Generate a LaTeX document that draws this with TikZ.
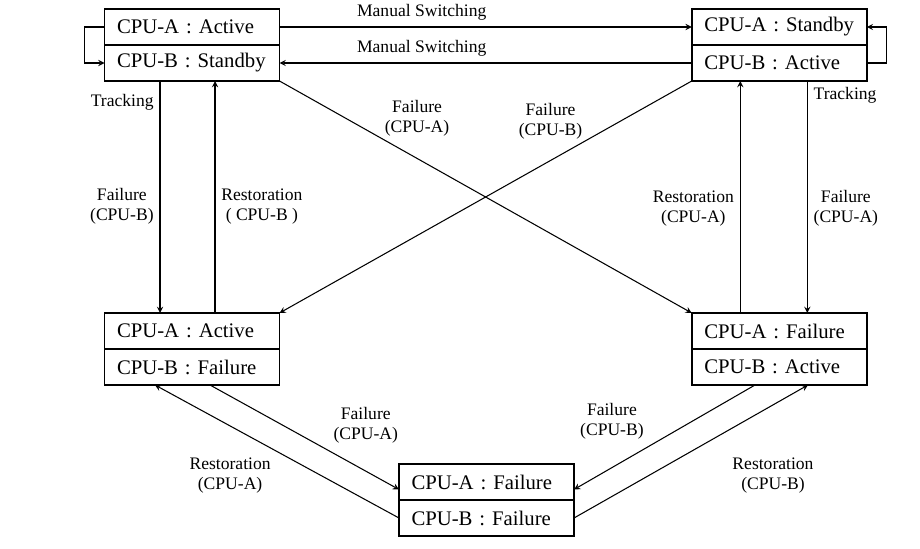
\documentclass[tikz,border=0pt]{standalone}
\usepackage{fontspec}
\setmainfont{Liberation Serif}
\usetikzlibrary{positioning}
\begin{document}
\begin{tikzpicture}[>=stealth, line width=0.6pt,
    row/.style={draw, line width=0.9pt, outer sep=0pt, minimum height=0.72cm, text width=3cm, inner xsep=0.25cm, align=left, font=\fontsize{11.8}{13}\selectfont},
    lbl/.style={align=center, font=\fontsize{10}{11.5}\selectfont}]
  \useasboundingbox (0, 0) rectangle (18.4, 10.96);
  % the five states
  \node[row] (tla) at (3.84, 10.42) {CPU-A : Active};
  \node[row, below=0pt of tla] (tlb) {CPU-B : Standby};
  \node[row] (tra) at (15.585, 10.42) {CPU-A : Standby};
  \node[row, below=0pt of tra] (trb) {CPU-B : Active};
  \node[row] (lla) at (3.84, 4.34) {CPU-A : Active};
  \node[row, below=0pt of lla] (llb) {CPU-B : Failure};
  \node[row] (lra) at (15.585, 4.34) {CPU-A : Failure};
  \node[row, below=0pt of lra] (lrb) {CPU-B : Active};
  \node[row] (bta) at (9.73, 1.32) {CPU-A : Failure};
  \node[row, below=0pt of bta] (btb) {CPU-B : Failure};
  % switching between the two normal states
  \draw[->] (tla.east) -- (tra.west) node[lbl, pos=0.345, above] {Manual Switching};
  \draw[->] (trb.west) -- (tlb.east) node[lbl, pos=0.655, above] {Manual Switching};
  \draw[->] (tla.west) -- ++(-0.4, 0) |- (tlb.west);
  \draw[->] (trb.east) -- ++(0.4, 0) |- (tra.east);
  % left column
  \draw[->] ([xshift=-0.64cm]tlb.south) -- ([xshift=-0.64cm]lla.north)
    node[lbl, pos=0.09, left] {Tracking} node[lbl, pos=0.54, left] {Failure\\(CPU-B)};
  \draw[->] ([xshift=0.46cm]lla.north) -- ([xshift=0.46cm]tlb.south)
    node[lbl, pos=0.46, right] {Restoration\\( CPU-B )};
  % right column
  \draw[->] ([xshift=-0.78cm]lra.north) -- ([xshift=-0.78cm]trb.south)
    node[lbl, pos=0.45, left] {Restoration\\(CPU-A)};
  \draw[->] ([xshift=0.56cm]trb.south) -- ([xshift=0.56cm]lra.north)
    node[lbl, pos=0.06, right] {Tracking} node[lbl, pos=0.55, right] {Failure\\(CPU-A)};
  % crossing failures
  \draw[->] (tlb.south east) -- (lra.north west)
    node[lbl, inner sep=1pt, pos=0.25, above right] {Failure\\(CPU-A)};
  \draw[->] (trb.south west) -- (lla.north east)
    node[lbl, inner sep=1pt, pos=0.26, above left] {Failure\\(CPU-B)};
  % to and from the double failure
  \draw[->] ([xshift=0.36cm]llb.south) -- ([yshift=-0.15cm]bta.west)
    node[lbl, pos=0.62, above right] {Failure\\(CPU-A)};
  \draw[->] (btb.west) -- ([xshift=-0.74cm]llb.south)
    node[lbl, pos=0.5, below left] {Restoration\\(CPU-A)};
  \draw[->] ([xshift=-0.485cm]lrb.south) -- ([yshift=-0.15cm]bta.east)
    node[lbl, pos=0.58, above left] {Failure\\(CPU-B)};
  \draw[->] (btb.east) -- ([xshift=0.575cm]lrb.south)
    node[lbl, pos=0.65, below right, yshift=-0.4cm] {Restoration\\(CPU-B)};
\end{tikzpicture}
\end{document}
